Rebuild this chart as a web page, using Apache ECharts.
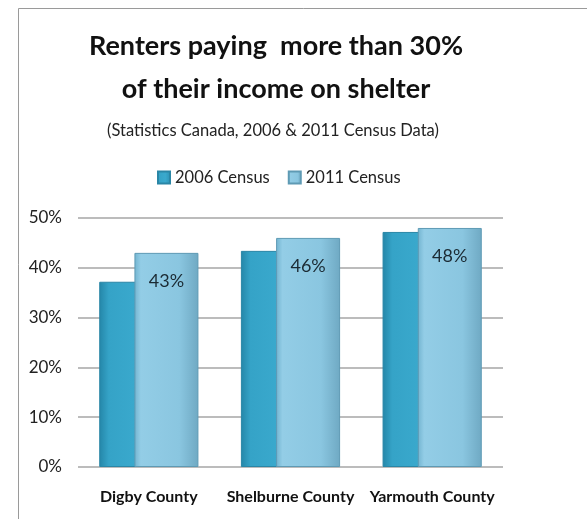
<!DOCTYPE html>
<html>
<head>
<meta charset="utf-8">
<script src="https://cdn.jsdelivr.net/npm/echarts@6/dist/echarts.min.js"></script>
<style>
  html, body { margin: 0; padding: 0; background: #fff; }
  #chart { width: 587px; height: 519px; }
</style>
</head>
<body>
<div id="chart"></div>
<script>
const counties = ['Digby County', 'Shelburne County', 'Yarmouth County']
const census2006 = [37.2, 43.4, 47.2]
const census2011 = [43, 46, 48]
const yTicks = [0, 10, 20, 30, 40, 50]

const font = 'Lato, "Open Sans", sans-serif'

const chart = echarts.init(document.getElementById('chart'))
chart.setOption({
  backgroundColor: '#fff',
  animation: false,
  graphic: [{
    type: 'rect',
    shape: { x: 18.5, y: 8.5, width: 600, height: 540 },
    style: { fill: 'none', stroke: '#9a9a9a', lineWidth: 1 }
  }],
  title: [{
    text: 'Renters paying  more than 30%\nof their income on shelter',
    left: 271,
    textAlign: 'center',
    top: 20,
    textStyle: { fontFamily: font, fontSize: 27, fontWeight: 'bold', color: '#111', lineHeight: 43 }
  }, {
    text: '(Statistics Canada, 2006 & 2011 Census Data)',
    left: 268,
    textAlign: 'center',
    top: 117,
    textStyle: { fontFamily: font, fontSize: 16.5, fontWeight: 'normal', color: '#222' }
  }],
  legend: {
    top: 164,
    left: 152,
    itemWidth: 12,
    itemHeight: 12,
    itemGap: 18,
    icon: 'rect',
    textStyle: { fontFamily: font, fontSize: 16.5, color: '#222' },
    data: ['2006 Census', '2011 Census']
  },
  grid: { left: 78, right: 84, top: 218, bottom: 52 },
  xAxis: {
    type: 'category',
    data: counties,
    axisLine: { show: false },
    axisTick: { show: false },
    axisLabel: { interval: 0, hideOverlap: false, fontFamily: font, fontSize: 16, fontWeight: 'bold', color: '#111', margin: 22 }
  },
  yAxis: {
    type: 'value',
    min: yTicks[0],
    max: yTicks[yTicks.length - 1],
    interval: 10,
    axisLine: { show: false },
    axisTick: { show: false },
    axisLabel: { fontFamily: font, fontSize: 17, color: '#222', margin: 16, formatter: v => v + '%' },
    splitLine: { lineStyle: { color: '#a6a6a6', width: 1.5 } }
  },
  series: [{
    name: '2006 Census',
    type: 'bar',
    barWidth: 64,
    barGap: '-45%',
    data: census2006,
    itemStyle: {
      borderColor: '#2a86a6',
      borderWidth: 1,
      color: new echarts.graphic.LinearGradient(0, 0, 1, 0, [
        { offset: 0, color: '#2486a8' },
        { offset: 0.15, color: '#35a3c7' },
        { offset: 0.6, color: '#3aa9cd' },
        { offset: 1, color: '#2c8fb2' }
      ])
    }
  }, {
    name: '2011 Census',
    type: 'bar',
    barWidth: 64,
    data: census2011,
    label: {
      show: true,
      position: 'insideTop',
      distance: 19,
      fontFamily: font,
      fontSize: 18,
      color: '#1b2a33',
      formatter: p => Math.round(p.value) + '%'
    },
    itemStyle: {
      borderColor: '#5e9ab4',
      borderWidth: 1,
      color: new echarts.graphic.LinearGradient(0, 0, 1, 0, [
        { offset: 0, color: '#72b4d0' },
        { offset: 0.1, color: '#93cde6' },
        { offset: 0.7, color: '#8ac6e0' },
        { offset: 1, color: '#6fa9c3' }
      ])
    }
  }]
})
</script>
</body>
</html>
